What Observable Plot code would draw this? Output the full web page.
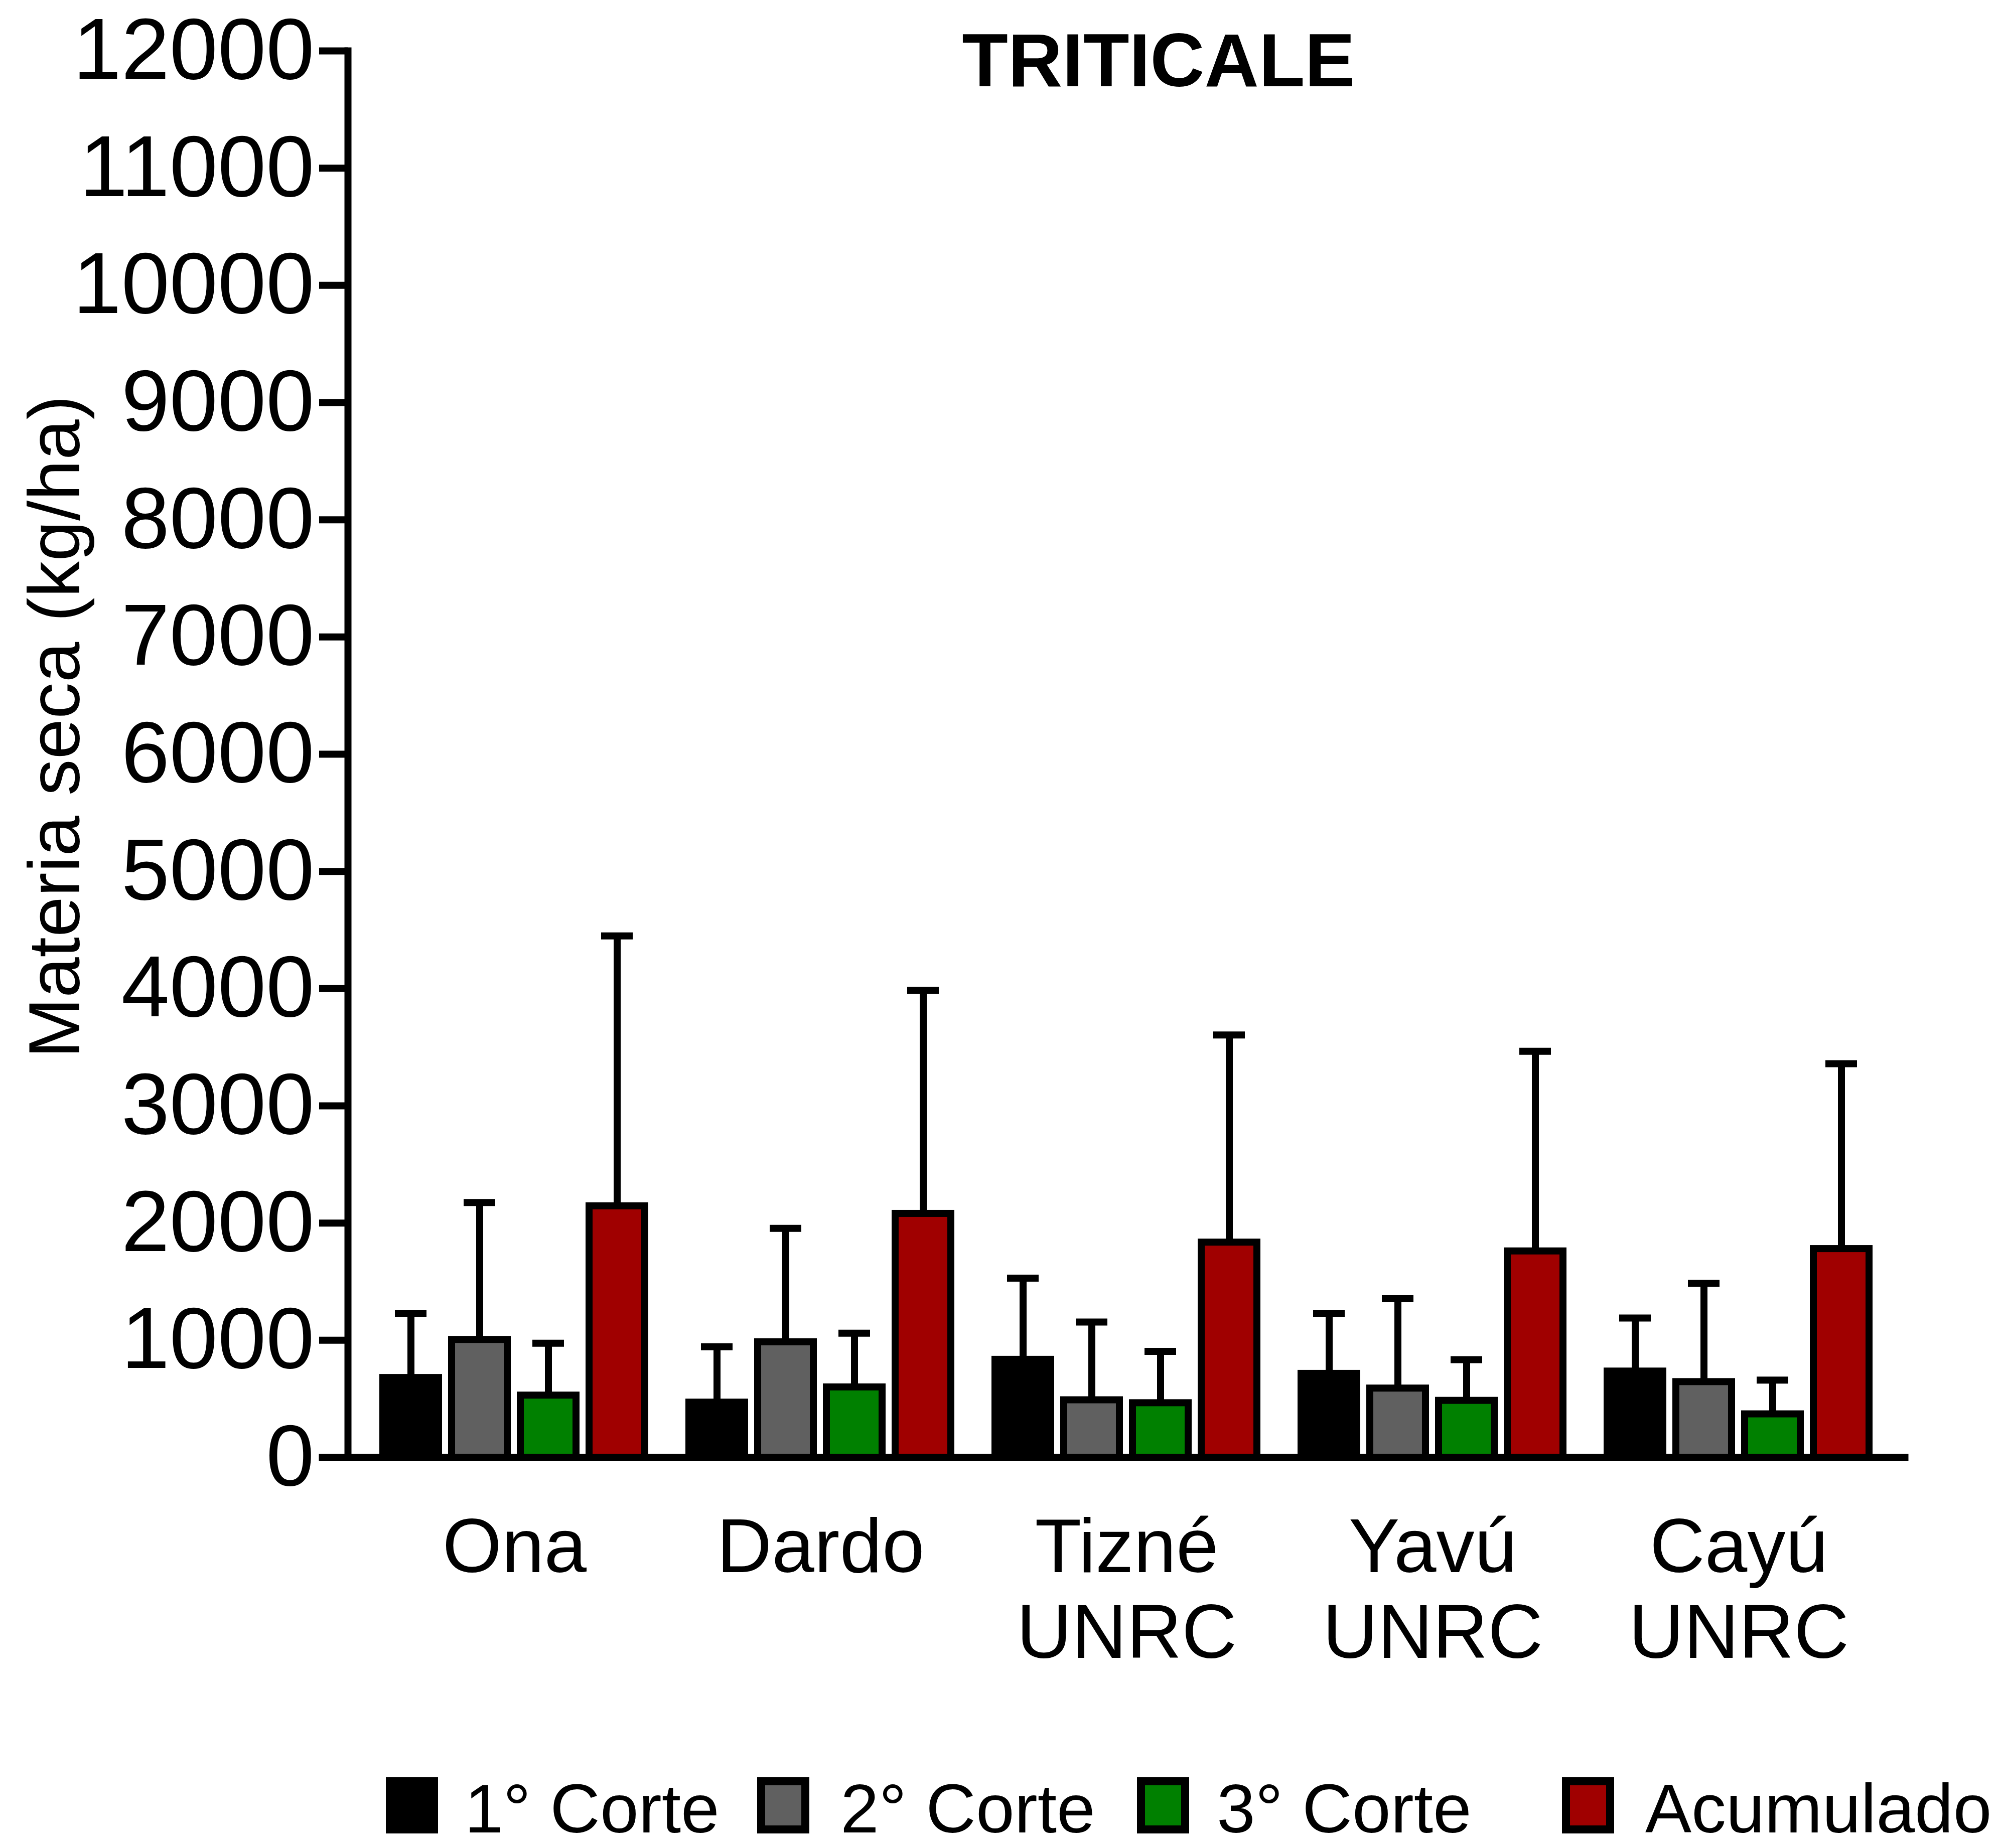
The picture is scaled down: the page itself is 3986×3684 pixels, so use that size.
<!DOCTYPE html>
<html>
<head>
<meta charset="utf-8">
<script src="https://cdn.jsdelivr.net/npm/d3@7"></script>
<script src="https://cdn.jsdelivr.net/npm/@observablehq/plot@0.6"></script>
<style>
  html, body { margin: 0; padding: 0; background: #fff; overflow: hidden; }
  #wrap { position: relative; width: 3986px; height: 3684px; background: #fff;
          font-family: "Liberation Sans", Arial, Helvetica, sans-serif; color: #000; }
  #wrap svg { display: block; }
  .abs { position: absolute; white-space: nowrap; line-height: 1; }
  #title { left: 2309px; top: 45px; transform: translateX(-50%); font-size: 150px; font-weight: bold; }
  #ylabel { left: 108px; top: 1449px; transform: translate(-50%, -50%) rotate(-90deg); font-size: 145px; }
  .sw { position: absolute; top: 3543px; width: 104px; height: 112px; box-sizing: border-box; border: 16px solid #000; }
  .lt { position: absolute; top: 3550px; font-size: 138px; line-height: 0.8; white-space: nowrap; }
</style>
</head>
<body>
<div id="wrap"></div>
<script>
// ---- Data ----
const title = "TRITICALE";
const yLabel = "Materia seca (kg/ha)";
const varieties = ["Ona", "Dardo", "Tizné\nUNRC", "Yavú\nUNRC", "Cayú\nUNRC"];
const series = ["1° Corte", "2° Corte", "3° Corte", "Acumulado"];
const colors = ["#000000", "#606060", "#008000", "#a00000"];
const yTicks = [0, 1000, 2000, 3000, 4000, 5000, 6000, 7000, 8000, 9000, 10000, 11000, 12000];

// means per series, in the order of varieties
const mean1 = [680, 470, 835, 715, 735];
const mean2 = [1005, 985, 490, 590, 645];
const mean3 = [530, 600, 465, 485, 370];
const meanAcum = [2145, 2080, 1835, 1760, 1780];
// upward error (SD) per series
const sd1 = [550, 475, 695, 515, 455];
const sd2 = [1170, 970, 665, 765, 840];
const sd3 = [445, 460, 440, 350, 290];
const sdAcum = [2305, 1905, 1770, 1705, 1580];

const means = [mean1, mean2, mean3, meanAcum];
const sds = [sd1, sd2, sd3, sdAcum];

const rows = varieties.flatMap((v, i) =>
  series.map((s, j) => ({variety: v, series: s, mean: means[j][i], sd: sds[j][i]}))
);

// ---- Chart ----
const FONT = '"Liberation Sans", Arial, Helvetica, sans-serif';
const axisLine = {stroke: "#000", strokeWidth: 15, strokeLinecap: "square"};
const chart = Plot.plot({
  width: 3986,
  height: 3400,
  marginTop: 101,
  marginBottom: 495,
  marginLeft: 643,
  marginRight: 190,
  facet: {marginTop: 0, marginRight: 0, marginBottom: 0, marginLeft: 0},
  style: {fontFamily: FONT, color: "#000", background: "#fff", overflow: "visible"},
  fx: {domain: varieties, paddingInner: 0, paddingOuter: 0.0844, align: 0.485, axis: null},
  x: {domain: series, paddingInner: 0.19, paddingOuter: 0.321, align: 0.795, axis: null},
  y: {domain: [0, 12000], axis: null},
  color: {domain: series, range: colors},
  marks: [
    Plot.ruleX(rows, {fx: "variety", x: "series", y1: "mean", y2: d => d.mean + d.sd,
      stroke: "#000", strokeWidth: 14}),
    Plot.tickY(rows, {fx: "variety", x: "series", y: d => d.mean + d.sd,
      stroke: "#000", strokeWidth: 14, inset: 24}),
    Plot.barY(rows, {fx: "variety", x: "series", y: "mean", fill: "series",
      stroke: "#000", strokeWidth: 14}),
    // x axis line (across all facets, extended at both ends)
    Plot.ruleY([0], axisLine),
    Plot.ruleY([0], {...axisLine, facetAnchor: "left", insetLeft: -50}),
    Plot.ruleY([0], {...axisLine, facetAnchor: "right", insetRight: -53}),
    // y axis line
    Plot.frame({anchor: "left", facetAnchor: "left", stroke: "#000", strokeWidth: 14, strokeLinecap: "square"}),
    Plot.axisY({ticks: yTicks, tickFormat: d => String(d), tickSize: 57, tickPadding: 10,
      stroke: "#000", strokeWidth: 14, fontSize: 173, label: null}),
    Plot.axisFx({anchor: "bottom", tickSize: 0, tickPadding: 108, fontSize: 152,
      lineHeight: 1.12, dx: 27, label: null})
  ]
});

const wrap = document.getElementById("wrap");
wrap.appendChild(chart);

const t = document.createElement("div");
t.id = "title"; t.className = "abs"; t.textContent = title;
wrap.appendChild(t);

const yl = document.createElement("div");
yl.id = "ylabel"; yl.className = "abs"; yl.textContent = yLabel;
wrap.appendChild(yl);

// legend below the chart
const swatchLeft = [769, 1509, 2266, 3113];
const textLeft = [926, 1675, 2425, 3279];
series.forEach((s, i) => {
  const sw = document.createElement("div");
  sw.className = "sw";
  sw.style.left = swatchLeft[i] + "px";
  sw.style.background = colors[i];
  wrap.appendChild(sw);
  const lt = document.createElement("div");
  lt.className = "lt";
  lt.style.left = textLeft[i] + "px";
  lt.textContent = s;
  wrap.appendChild(lt);
});
</script>
</body>
</html>
